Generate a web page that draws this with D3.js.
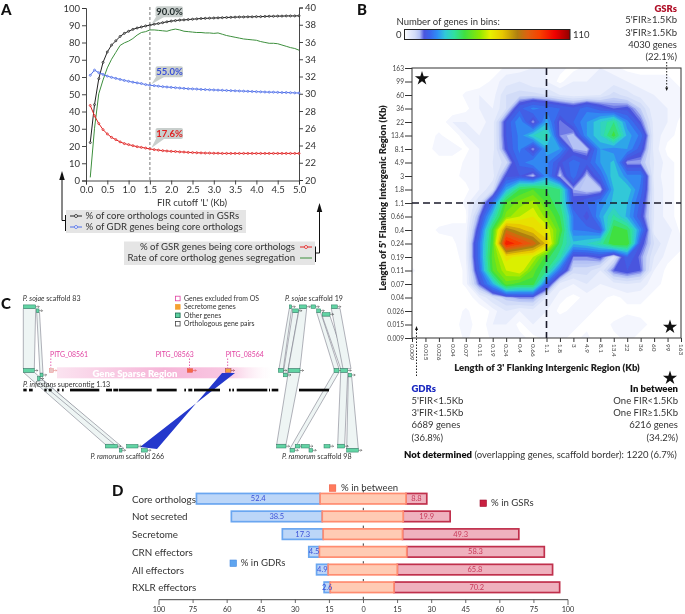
<!DOCTYPE html>
<html><head><meta charset="utf-8">
<style>html,body{margin:0;padding:0;background:#fff}svg{display:block;filter:blur(0.35px)}text{font-family:Lato,"Open Sans",sans-serif;fill:#333}</style>
<script src="https://d3js.org/d3.v7.min.js"></script></head><body>
<svg id="c" width="685" height="614"></svg>
<script>
// ---------- Panel A data
const firCutoffs=[0.1,0.2,0.3,0.4,0.5,0.6,0.7,0.8,0.9,1.0,1.1,1.2,1.3,1.4,1.5,1.6,1.7,1.8,1.9,2.0,2.1,2.2,2.3,2.4,2.5,2.6,2.7,2.8,2.9,3.0,3.1,3.2,3.3,3.4,3.5,3.6,3.7,3.8,3.9,4.0,4.1,4.2,4.3,4.4,4.5,4.6,4.7,4.8,4.9,5.0];
const coreInGSR=[22,44,59,68.5,74.5,78.5,81,83.5,85.3,86.5,87.6,88.4,89,89.6,90,90.6,91,91.5,92,92.4,92.7,93,93.1,93.3,93.5,93.7,93.9,94,94.1,94.2,94.3,94.4,94.5,94.6,94.7,94.8,94.8,94.9,94.9,95,95,95.1,95.2,95.2,95.3,95.3,95.4,95.4,95.4,95.5];
const gdrCore=[61,64,62.5,61.5,60.5,59.8,59.2,58.6,58,57.5,57,56.6,56.2,55.6,55.2,55,54.7,54.4,54.2,54,53.8,53.6,53.4,53.2,53.1,53,52.8,52.7,52.6,52.5,52.4,52.3,52.2,52.1,52,51.9,51.8,51.7,51.6,51.5,51.4,51.3,51.2,51.2,51.1,51,51,50.9,50.8,50.7];
const gsrCore=[43.5,37.5,33,29.5,27,25,23.7,22.4,21.4,20.8,20.2,19.6,19.2,18.8,18.3,17.9,17.6,17.3,17.1,16.9,16.8,16.6,16.5,16.3,16.2,16.1,16,15.9,15.9,15.8,15.8,15.7,15.7,15.7,15.7,15.7,15.7,15.7,15.7,15.7,15.7,15.7,15.7,15.7,15.7,15.7,15.7,15.7,15.7,15.7];
const segregation=[20.3,26,30,31.6,33,34,34.8,35.6,35.9,36.1,36.4,36.8,37.1,37.2,37.4,37.4,37.35,37.3,37.25,37.4,37.5,37.4,37.25,37.2,37.15,37.1,37.1,37.05,37.05,37,37.05,36.9,36.75,36.65,36.55,36.45,36.35,36.3,36.25,36.2,36.05,35.95,35.85,35.85,35.8,35.65,35.5,35.35,35.25,35.05];
const callouts=[["90.0%",90,"#1f2a2a"],["55.0%",55.2,"#3a50d8"],["17.6%",18.3,"#e02020"]];
const leftTicks=[0,10,20,30,40,50,60,70,80,90,100];
const rightTicks=[20,22,24,26,28,30,32,34,36,38,40];
const xTicksA=[0,0.5,1,1.5,2,2.5,3,3.5,4,4.5,5];

// ---------- Panel B data: rows run from 163 kb (top) to 0.009 kb, columns from 0.009 to 163 kb
const binLabels=["0.009","0.015","0.026","0.04","0.07","0.11","0.19","0.24","0.4","0.66","1.1","1.8","3","4.9","8.1","13.4","22","36","60","99","163"];
const heatRows=[
[0,0,0,0,0,0,0,2,2,3,3,2,1,2,3,2,1,1,1,1,1],
[0,0,0,0,0,0,2,4,5,3,3,1,3,3,3,4,3,2,2,2,1],
[0,0,0,0,2,3,2,7,8,8,7,5,4,4,5,8,6,4,3,2,2],
[0,0,0,0,1,3,3,7,17,22,20,18,16,20,16,13,14,9,3,3,2],
[0,0,0,3,3,2,4,15,24,11,26,12,18,24,30,36,22,13,4,3,1],
[0,0,2,0,3,3,4,15,22,30,34,12,10,24,30,42,26,20,4,2,1],
[0,0,3,3,1,3,4,14,22,11,26,24,11,10,24,22,24,16,4,1,1],
[0,0,0,0,2,3,5,8,19,24,22,14,20,16,24,28,11,11,5,2,1],
[0,0,0,1,2,3,4,14,15,10,23,10,20,10,18,30,22,22,4,2,1],
[0,0,0,0,1,3,7,26,40,44,40,36,11,9,10,27,30,20,5,2,1],
[0,0,0,0,2,7,20,44,50,54,44,36,15,18,22,28,27,17,5,2,1],
[0,0,0,1,1,12,30,50,56,60,50,40,21,13,25,34,26,15,5,2,1],
[0,0,2,2,2,16,42,80,72,66,60,44,21,20,17,43,40,22,4,4,1],
[0,0,0,1,3,20,44,100,92,84,68,38,28,30,34,44,44,15,7,3,2],
[0,0,0,0,3,20,46,62,58,56,42,34,12,12,14,6,18,12,5,2,1],
[2,0,0,0,2,18,44,56,60,46,36,19,8,8,5,13,15,13,3,1,0],
[0,0,0,0,2,13,26,46,42,42,18,4,3,5,3,4,5,4,2,1,0],
[0,0,0,0,0,3,7,10,12,12,5,2,1,2,2,1,2,2,1,0,0],
[0,0,0,0,2,0,2,5,3,4,3,1,2,2,1,0,1,1,0,1,0],
[0,0,0,0,3,0,3,3,1,3,2,3,2,1,0,2,3,2,1,0,0],
[0,0,0,0,2,0,2,2,2,1,2,2,1,2,0,1,2,1,0,1,0]];
const heatLevels=[1.5,3,5,7,9,10,11,12,13,15,18,21,24,27,30,33,36,40,44,48,52,56,60,65,70,75,80,85,90,95,100,105];
const colorStops=[0,3,7,10,11.5,13,17,22,27,33,40,50,57,65,75,82,90,100,110];
const colorHex=["#ffffff","#e8edfc","#d2dcf8","#b4c2f5","#7f8aea","#4a55de","#3a66ec","#2f90f4","#30c8d8","#30e0a0","#40e040","#90e800","#e8f000","#e8c800","#b08010","#e06010","#f84000","#f00000","#900000"];

// ---------- Panel D data
const geneClasses=["Core orthologs","Not secreted","Secretome","CRN effectors","All effectors","RXLR effectors"];
const pctGDR=[52.4,38.5,17.3,4.5,4.9,2.6];
const pctGSR=[8.8,19.9,49.3,58.3,65.8,70.2];
const betweenFrom=[-18.3,-17.4,-17,-18.6,-14.9,-14];
const betweenTo=[18.1,16.9,16.6,18.4,14.4,13];
const axisLabelsD=["100","75","60","45","30","15","0","15","30","45","60","75","100"];

// ---------- Panel C data: gene models [start,end,track lane]; ribbons [topStart,topEnd,laneTop,botStart,botEnd,laneBot]
const genesC=[[23.3,35.7,"s0"],[36.3,39,"s1"],[23.3,34.3,"i0"],[37.5,40,"i2"],[40,43,"i1"],[105.3,117.3,"r0"],[119.3,122,"r1"],[126.7,138,"r0"],[141.3,147.3,"r1"],
[289.3,291.7,"s0"],[292.7,298.3,"s1"],[299.3,306.7,"s0"],[311,315.7,"s0"],[316.7,320.7,"s1"],[322.3,330,"s2"],[331.3,337.3,"s0"],
[278.3,283.3,"i0"],[283.3,287.3,"i1"],[288.3,300,"i0"],[334,339,"i0"],[340.7,347.7,"i0"],[348.3,351.7,"i1"],
[276.7,286,"r0"],[290,294.7,"r1"],[295.3,300,"r0"],[301.3,309.3,"r0"],[309,312.7,"r1"],[324,330,"r0"],[337.7,344.7,"r0"],[346.7,358.3,"r1"]];
const ribbonsC=[[23.3,35.7,"s0",23.3,34.3,"i0"],[36.7,39.5,"s1",40,43,"i1"],[23.3,34.3,"i0",105.3,117.3,"r0"],[37.5,43,"i2",119.3,124,"r1"],
[289.3,291.7,"s0",279,283.3,"i0"],[292.7,298.3,"s1",283.3,287.3,"i1"],[299.3,306.7,"s0",288.3,300,"i0"],[316.7,320.7,"s1",334,339,"i0"],[322.3,330,"s2",340.7,347.7,"i0"],[331.3,340,"s0",343,351,"i0"],
[288.3,300,"i0",276.7,286,"r0"],[334,339,"i0",290,294.7,"r1"],[340.7,347.7,"i0",337.7,344.7,"r0"],[348.3,351.7,"i1",346.7,358.3,"r1"]];
const scaffoldBlocks=[[23.3,26.7],[29,32.7],[44.3,46.7],[48.7,51.7],[57.3,59.3],[62,63.7],[70,99.3],[106,112],[113.3,118.3],[119,151.7],[156.7,176.7],[184.3,186],[188.3,192.3],[194,220],[229,230.7],[232.3,234],[236.7,267.3],[269,270],[271.7,278.3],[299,329]];
const pitgGenes=[["PITG_08561",49.3,53.3,"#e9c4c4","#e88888",50],["PITG_08563",187.3,192.7,"#f26a45","#e8504a",155.7],["PITG_08564",225.3,231,"#f2a040","#a04050",225.7]];
const legendC=[["Genes excluded from OS","#fff","#e040a0"],["Secretome genes","#f5a030","#f5a030"],["Other genes","#5fd0a0","#1a6a50"],["Orthologous gene pairs","#fff","#444"]];

// ---------- Helpers
const svg=d3.select("#c");
const defs=svg.append("defs");
function label(g,x,y,s,o={}){const t=g.append("text").attr("x",x).attr("y",y).attr("dy","0.35em").text(s)
 .attr("font-size",o.size||9).attr("text-anchor",o.anchor||"start");
 if(o.weight)t.attr("font-weight",o.weight);if(o.fill)t.style("fill",o.fill);if(o.style)t.attr("font-style",o.style);return t}
function arrowUp(g,x,y,w,h,fill="#111",dir=-1){g.append("path").attr("d",`M${x},${y}L${x-w/2},${y-dir*h}L${x+w/2},${y-dir*h}Z`).attr("fill",fill)}
function soften(id,dev){defs.append("filter").attr("id",id).attr("x","-5%").attr("y","-5%").attr("width","110%").attr("height","110%").append("feGaussianBlur").attr("stdDeviation",dev)}
soften("soft",0.35);
[["A",1,10],["B",357,10],["C",1,304],["D",112,491]].forEach(([s,x,y])=>label(svg,x,y,s,{size:15,weight:900,fill:"#111"}));

// ---------- Panel A
{const g=svg.append("g");
 const x=d3.scaleLinear([0,5],[86,299]),yL=d3.scaleLinear([0,100],[180.5,8]),yR=d3.scaleLinear([20,40],[180,7.5]);
 const ax=g.append("g").attr("transform","translate(0,180.5)").call(d3.axisBottom(x).tickValues(xTicksA).tickFormat(d3.format(".1f")).tickSize(4).tickPadding(2));
 const al=g.append("g").attr("transform","translate(86,0)").call(d3.axisLeft(yL).tickValues(leftTicks).tickSize(4).tickPadding(2));
 const ar=g.append("g").attr("transform","translate(299,0)").call(d3.axisRight(yR).tickValues(rightTicks).tickSize(4).tickPadding(2));
 [ax,al,ar].forEach(a=>{a.selectAll("text").attr("font-size",9.5).style("fill","#333");a.selectAll("path,line").attr("stroke","#333").attr("stroke-width",.9)});
 g.append("line").attr("x1",x(1.5)).attr("x2",x(1.5)).attr("y1",7).attr("y2",180).attr("stroke","#555").attr("stroke-dasharray","3,2").attr("stroke-width",.8);
 g.append("path").attr("d",d3.line().x((d,i)=>x(firCutoffs[i])).y(d=>yR(d))(segregation)).attr("fill","none").attr("stroke","#3d8f3d").attr("stroke-width",1);
 [[coreInGSR,"#222"],[gdrCore,"#4f6fe8"],[gsrCore,"#e02020"]].forEach(([v,c])=>{
  g.append("path").attr("d",d3.line().x((d,i)=>x(firCutoffs[i])).y(d=>yL(d))(v)).attr("fill","none").attr("stroke",c).attr("stroke-width",1);
  g.selectAll(null).data(v).join("circle").attr("cx",(d,i)=>x(firCutoffs[i])).attr("cy",d=>yL(d)).attr("r",1).attr("fill","#fff").attr("fill-opacity",.55).attr("stroke",c).attr("stroke-width",.8);
 });
 callouts.forEach(([s,v,c],i)=>{const px=x(1.5)+.5,py=yL(v),top=py-19-(i==2?2:0);
  g.append("path").attr("d",`M${px+6},${top+10}L${px+1},${py-1}L${px+15},${top+10}Z`).attr("fill","#c9cfcd");
  g.append("rect").attr("x",155.5).attr("y",top).attr("width",27.5).attr("height",11).attr("rx",2).attr("fill","#c9cfcd");
  label(g,169.5,top+5.5,s,{size:9.5,weight:700,anchor:"middle",fill:c});
 });
 label(g,192,202.5,"FIR cutoff 'L' (Kb)",{size:9.5,anchor:"middle"});
 g.append("rect").attr("x",66).attr("y",210).attr("width",180).attr("height",23).attr("fill","#e5e5e5");
 g.append("rect").attr("x",124).attr("y",241.5).attr("width",191).attr("height",23.5).attr("fill","#e5e5e5");
 const legL=[["% of core orthologs counted in GSRs","#222",216],["% of GDR genes being core orthologs","#4f6fe8",227]];
 legL.forEach(([s,c,y])=>{g.append("line").attr("x1",70).attr("x2",82).attr("y1",y).attr("y2",y).attr("stroke",c);
  g.append("circle").attr("cx",76).attr("cy",y).attr("r",1.5).attr("fill","#fff").attr("stroke",c).attr("stroke-width",.8);label(g,85.5,y,s,{size:9.6})});
 label(g,295,247,"% of GSR genes being core orthologs",{size:9.6,anchor:"end"});
 label(g,295,258,"Rate of core ortholog genes segregation",{size:9.6,anchor:"end"});
 g.append("line").attr("x1",300).attr("x2",312).attr("y1",247).attr("y2",247).attr("stroke","#e02020");
 g.append("circle").attr("cx",306).attr("cy",247).attr("r",1.5).attr("fill","#fff").attr("stroke","#e02020").attr("stroke-width",.8);
 g.append("line").attr("x1",300).attr("x2",312).attr("y1",258).attr("y2",258).attr("stroke","#3d8f3d");
 g.append("path").attr("d","M65.5,215V231M65.5,220.5H62V178").attr("fill","none").attr("stroke","#111").attr("stroke-width",1);
 arrowUp(g,62,171,5.5,9);
 g.append("path").attr("d","M315.5,246.5V262M315.5,253H319.5V210").attr("fill","none").attr("stroke","#111").attr("stroke-width",1);
 arrowUp(g,319.5,203,5.5,9);
}

// ---------- Panel B
{const g=svg.append("g");
 const L=412,R=681,T=68,B=338;
 const x=d3.scaleLinear([0,20],[L,R]),y=d3.scaleLinear([0,20],[T,B]);
 const color=d3.scaleLinear(colorStops,colorHex);
 defs.append("clipPath").attr("id","plotB").append("rect").attr("x",L).attr("y",T).attr("width",R-L).attr("height",B-T);
 const flat=heatRows.flat();
 const path=d3.geoPath(d3.geoTransform({point(a,b){this.stream.point(x(a-.5),y(b-.5))}}));
 const hm=g.append("g").attr("clip-path","url(#plotB)").append("g").attr("filter","url(#soft)");
 hm.selectAll("path").data(d3.contours().size([21,21]).thresholds(heatLevels)(flat)).join("path")
  .attr("d",path).attr("fill",d=>color(d.value));
 g.append("rect").attr("x",L).attr("y",T).attr("width",R-L).attr("height",B-T).attr("fill","none").attr("stroke","#333").attr("stroke-width",1);
 const tx=g.append("g").attr("transform",`translate(0,${B})`).call(d3.axisBottom(d3.scalePoint(binLabels,[L,R])).tickSize(4).tickPadding(3));
 tx.selectAll("text").attr("transform","rotate(90)").attr("text-anchor","start").attr("dy","0.35em").attr("x",6).attr("y",0).attr("font-size",6.4).style("fill","#444");
 const ty=g.append("g").attr("transform",`translate(${L},0)`).call(d3.axisLeft(d3.scalePoint(binLabels,[B,T])).tickSize(7).tickPadding(1));
 ty.selectAll("text").attr("font-size",6.6).style("fill","#444");
 [tx,ty].forEach(a=>{a.select(".domain").remove();a.selectAll("line").attr("stroke","#333")});
 const dash={stroke:"#1a1a2a","stroke-width":1.6,"stroke-dasharray":"7,4"};
 const vl=g.append("line").attr("x1",x(10)).attr("x2",x(10)).attr("y1",T).attr("y2",B),hl=g.append("line").attr("x1",L).attr("x2",R).attr("y1",y(10)).attr("y2",y(10));
 [vl,hl].forEach(l=>Object.entries(dash).forEach(([k,v])=>l.attr(k,v)));
 const star=d3.symbol(d3.symbolStar,62)();
 [[422,78.5],[670,327],[670,378]].forEach(([a,b])=>g.append("path").attr("d",star).attr("transform",`translate(${a},${b})`).attr("fill","#111"));
 // colour bar
 const gr=defs.append("linearGradient").attr("id","bar");
 colorStops.forEach((s,i)=>gr.append("stop").attr("offset",s/110).attr("stop-color",colorHex[i]));
 g.append("rect").attr("x",404.5).attr("y",29.5).attr("width",165.5).attr("height",10).attr("fill","url(#bar)").attr("stroke","#222").attr("stroke-width",1);
 label(g,396.5,22,"Number of genes in bins:",{size:9.5});
 label(g,396,35,"0",{size:9.5});label(g,573,35,"110",{size:9.5});
 // block texts
 [["GSRs",8.3],["5'FIR≥1.5Kb",20],["3'FIR≥1.5Kb",32.3],["4030 genes",44.7],["(22.1%)",56.7]].forEach(([s,yy],i)=>label(g,677,yy,s,{size:9.5,anchor:"end",weight:i?null:800,fill:i?null:"#b01028"}));
 [["GDRs",388.3],["5'FIR<1.5Kb",400.3],["3'FIR<1.5Kb",412.7],["6689 genes",425],["(36.8%)",437.3]].forEach(([s,yy],i)=>label(g,411.5,yy,s,{size:9.5,weight:i?null:800,fill:i?null:"#1a28c0"}));
 [["In between",388.3],["One FIR<1.5Kb",400.3],["One FIR≥1.5Kb",412.7],["6216 genes",425],["(34.2%)",437.3]].forEach(([s,yy],i)=>label(g,678,yy,s,{size:9.5,anchor:"end",weight:i?null:800,fill:i?null:"#111"}));
 const nd=label(g,404,455,"",{size:9.5});
 nd.append("tspan").attr("font-weight",800).style("fill","#111").text("Not determined");
 nd.append("tspan").text(" (overlapping genes, scaffold border): 1220 (6.7%)");
 label(g,547,368,"Length of 3' Flanking Intergenic Region (Kb)",{size:9.5,weight:800,anchor:"middle",fill:"#222"});
 label(g,0,0,"Length of 5' Flanking Intergenic Region (Kb)",{size:9.5,weight:800,anchor:"middle",fill:"#222"}).attr("transform","translate(383,198) rotate(-90)");
 g.append("line").attr("x1",666.7).attr("x2",666.7).attr("y1",62).attr("y2",88).attr("stroke","#222").attr("stroke-dasharray","1.5,1.5");
 arrowUp(g,666.7,91,3,3.5,"#111",1);
 g.append("line").attr("x1",416.5).attr("x2",416.5).attr("y1",376).attr("y2",330).attr("stroke","#222").attr("stroke-dasharray","1.5,1.5");
 arrowUp(g,416.5,326,3,4);
}

// ---------- Panel C
{const g=svg.append("g");
 const sx=d3.scaleLinear([0,685],[0,685]);
 const lane=d3.scaleOrdinal(["s0","s1","s2","i0","i1","i2","r0","r1"],[306.7,310.7,314.3,370.5,375,378.5,446.2,450.3]);
 const gh=3.6;
 const pg=defs.append("linearGradient").attr("id","sparse");
 [[0,"#fbe3f0",1],[.5,"#f6b5d8",1],[.8,"#f9c8e2",1],[1,"#fdeef6",0]].forEach(([o,c,a])=>pg.append("stop").attr("offset",o).attr("stop-color",c).attr("stop-opacity",a));
 g.append("rect").attr("x",sx(57)).attr("y",367.3).attr("width",sx(272)-sx(57)).attr("height",11).attr("fill","url(#sparse)");
 label(g,135,373.2,"Gene Sparse Region",{size:9.5,weight:800,anchor:"middle",fill:"#fff"});
 g.selectAll(null).data(ribbonsC).join("path").attr("d",d=>`M${sx(d[0])},${lane(d[2])+gh/2}L${sx(d[1])},${lane(d[2])+gh/2}L${sx(d[4])},${lane(d[5])-gh/2}L${sx(d[3])},${lane(d[5])-gh/2}Z`)
  .attr("fill","#eef5f4").attr("stroke","#667").attr("stroke-width",.5);
 g.append("path").attr("d",`M${sx(140)},447L${sx(235)},373L${sx(222)},373L${sx(157)},449Z`).attr("fill","#2438cc");
 g.selectAll(null).data(scaffoldBlocks).join("rect").attr("x",d=>sx(d[0])).attr("width",d=>sx(d[1])-sx(d[0])).attr("y",388.7).attr("height",2.7).attr("fill","#0a0a0a");
 genesC.forEach(d=>{const y0=lane(d[2]);
  g.append("path").attr("d",`M${sx(d[1])},${y0}h3.5m-1.2,-1.2l1.2,1.2l-1.2,1.2`).attr("fill","none").attr("stroke","#333").attr("stroke-width",.5);
  g.append("rect").attr("x",sx(d[0])).attr("width",sx(d[1])-sx(d[0])).attr("y",y0-gh/2).attr("height",gh).attr("fill","#62d4a4").attr("stroke","#2a7a60").attr("stroke-width",.5);});
 pitgGenes.forEach(([s,a,b,f,st,lx])=>{
  g.append("line").attr("x1",(a+b)/2-.5).attr("x2",(a+b)/2-.5).attr("y1",358.5).attr("y2",368).attr("stroke","#e040a0").attr("stroke-width",.8).attr("stroke-dasharray","1.5,1.5");
  g.append("path").attr("d",`M${sx(b)},370.5h3.5m-1.2,-1.2l1.2,1.2l-1.2,1.2`).attr("fill","none").attr("stroke",st).attr("stroke-width",.6);
  g.append("rect").attr("x",sx(a)).attr("width",sx(b)-sx(a)).attr("y",368.7).attr("height",gh).attr("fill",f).attr("stroke",st).attr("stroke-width",.5);
  label(g,lx,354.8,s,{size:6.9,fill:"#e040a0"});});
 function sp(x,y,it,rest,size=7.1){const t=label(g,x,y,"",{size});t.append("tspan").attr("font-style","italic").text(it);t.append("tspan").text(rest);return t}
 sp(22.7,299,"P. sojae"," scaffold 83");sp(285,299,"P. sojae"," scaffold 19");
 sp(23,384.7,"P. infestans"," supercontig 1.13");sp(90.5,456.5,"P. ramorum"," scaffold 266");sp(282,456.5,"P. ramorum"," scaffold 98");
 legendC.forEach(([s,f,st],i)=>{const yy=298.5+i*8.4;
  g.append("rect").attr("x",175.5).attr("y",yy-2.3).attr("width",4.6).attr("height",4.6).attr("fill",f).attr("stroke",st).attr("stroke-width",.8);
  label(g,184,yy,s,{size:6.9});});
}

// ---------- Panel D
{const g=svg.append("g");
 const x=d3.scaleLinear([-100,100],[363.3-236,363.3+236]);
 const y=d3.scalePoint(geneClasses,[498.7,587.3]);
 const h=10.5;
 g.append("line").attr("x1",363.3).attr("x2",363.3).attr("y1",490).attr("y2",599).attr("stroke","#222").attr("stroke-width",.9).attr("stroke-dasharray","2.5,15.3");
 const segment=(c,a,b,f,s)=>g.append("rect").attr("x",x(a)).attr("width",x(b)-x(a)).attr("y",y(c)-h/2).attr("height",h).attr("fill",f).attr("stroke",s).attr("stroke-width",1.7);
 geneClasses.forEach((c,i)=>{
  const l=betweenFrom[i],r=betweenTo[i];
  segment(c,l-pctGDR[i],l,"#bcd6f8","#6aa6f0");
  segment(c,r,r+pctGSR[i],"#efb1be","#c0304c");
  segment(c,l,r,"#ffcbb4","#ff8c70");
  label(g,x(l-pctGDR[i]/2),y(c),pctGDR[i].toFixed(1),{size:7.5,anchor:"middle",fill:"#3a50d8"});
  label(g,x(r+pctGSR[i]/2),y(c),pctGSR[i].toFixed(1),{size:7.5,anchor:"middle",fill:"#c83a5a"});
  label(g,132,y(c)+.5,c,{size:9.8});
 });
 const ax=d3.scalePoint(d3.range(axisLabelsD.length),[159,568]);
 g.append("line").attr("x1",159).attr("x2",568).attr("y1",599.7).attr("y2",599.7).attr("stroke","#444").attr("stroke-width",1);
 axisLabelsD.forEach((s,i)=>{g.append("line").attr("x1",ax(i)).attr("x2",ax(i)).attr("y1",599.7).attr("y2",i==0||i==12?605:603).attr("stroke","#444").attr("stroke-width",.8);
  label(g,ax(i),609,s,{size:7.3,anchor:"middle"});});
 [["% in between",329.3,484.8,"#ff7a5c","#ee5a40",341,488],["% in GDRs",230,560,"#5fa5f0","#4a8ae0",240.7,562.7],["% in GSRs",480,500,"#c82040","#a01030",491,503]].forEach(([s,a,b,f,st,tx,ty])=>{
  g.append("rect").attr("x",a).attr("y",b).attr("width",6.5).attr("height",6.5).attr("fill",f).attr("stroke",st).attr("stroke-width",.6);
  label(g,tx,ty,s,{size:9.6});});
}
</script></body></html>
